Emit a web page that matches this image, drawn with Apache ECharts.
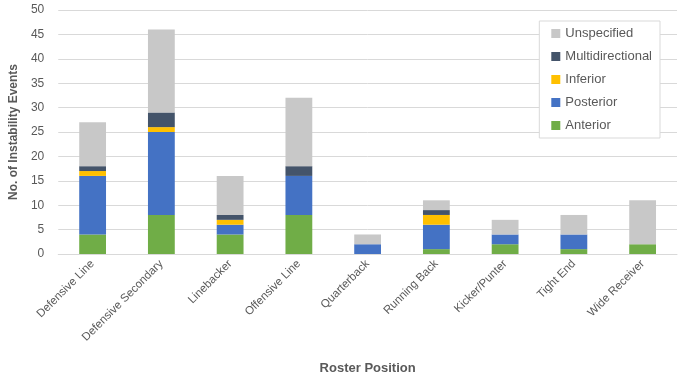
<!DOCTYPE html>
<html><head><meta charset="utf-8">
<script src="https://cdn.jsdelivr.net/npm/echarts@6/dist/echarts.min.js"></script>
<style>html,body{margin:0;padding:0;background:#fff}#c{width:680px;height:380px}</style>
</head><body><div id="c"></div>
<script>
var categories = ["Defensive Line","Defensive Secondary","Linebacker","Offensive Line","Quarterback","Running Back","Kicker/Punter","Tight End","Wide Receiver"];
var anterior = [4, 8, 4, 8, 0, 1, 2, 1, 2];
var posterior = [12, 17, 2, 8, 2, 5, 2, 3, 0];
var inferior = [1, 1, 1, 0, 0, 2, 0, 0, 0];
var multidirectional = [1, 3, 1, 2, 0, 1, 0, 0, 0];
var unspecified = [9, 17, 8, 14, 2, 2, 3, 4, 9];
var yTicks = {min: 0, max: 50, interval: 5};

var font = "'Liberation Sans', sans-serif";
function s(name, data, color) {
  return {name: name, type: 'bar', stack: 't', data: data, barCategoryGap: '61%',
    itemStyle: {color: color}, emphasis: {disabled: true}};
}
var chart = echarts.init(document.getElementById('c'));
chart.setOption({
  animation: false,
  textStyle: {fontFamily: font},
  grid: {left: 56, right: 3, top: 10, bottom: 123},
  legend: {
    data: ['Unspecified','Multidirectional','Inferior','Posterior','Anterior'],
    orient: 'vertical', right: 20, top: 21,
    backgroundColor: '#fff', borderColor: '#d9d9d9', borderWidth: 1,
    padding: [6, 8, 6, 12], itemGap: 10, itemWidth: 9, itemHeight: 9,
    icon: 'rect', textStyle: {fontSize: 13, color: '#595959', fontFamily: font}
  },
  xAxis: {
    type: 'category', data: categories,
    axisLine: {lineStyle: {color: '#d9d9d9', width: 1}},
    axisTick: {show: false},
    axisLabel: {rotate: 45, fontSize: 11.5, color: '#595959', margin: 8, interval: 0},
    name: 'Roster Position', nameLocation: 'middle', nameGap: 108,
    nameTextStyle: {fontSize: 13, fontWeight: 'bold', color: '#595959'}
  },
  yAxis: {
    type: 'value', min: yTicks.min, max: yTicks.max, interval: yTicks.interval,
    axisLine: {show: false}, axisTick: {show: false},
    splitLine: {lineStyle: {color: '#d9d9d9', width: 1}},
    axisLabel: {fontSize: 12, color: '#595959', margin: 14},
    name: 'No. of Instability Events', nameLocation: 'middle', nameGap: 37,
    nameTextStyle: {fontSize: 12, fontWeight: 'bold', color: '#595959'}
  },
  series: [
    s('Anterior', anterior, '#70ad47'),
    s('Posterior', posterior, '#4472c4'),
    s('Inferior', inferior, '#ffc000'),
    s('Multidirectional', multidirectional, '#44546a'),
    s('Unspecified', unspecified, '#c8c8c8')
  ]
});
</script></body></html>
